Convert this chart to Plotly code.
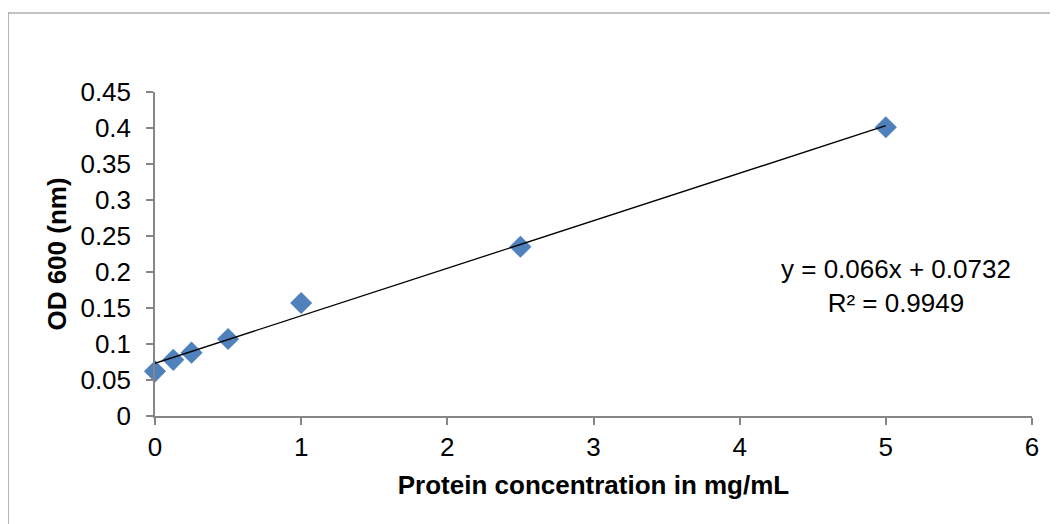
import plotly.graph_objects as go

concentration = [0, 0.125, 0.25, 0.5, 1, 2.5, 5]
od600 = [0.062, 0.078, 0.088, 0.107, 0.157, 0.235, 0.401]
slope = 0.066
intercept = 0.0732
r_squared = 0.9949
x_ticks = [0, 1, 2, 3, 4, 5, 6]
y_ticks = [0, 0.05, 0.1, 0.15, 0.2, 0.25, 0.3, 0.35, 0.4, 0.45]
y_tick_labels = ["0", "0.05", "0.1", "0.15", "0.2", "0.25", "0.3", "0.35", "0.4", "0.45"]

trend_x = [min(concentration), max(concentration)]
trend_y = [slope * v + intercept for v in trend_x]

OFF = 8  # page body offset
W, H = 1058 - OFF, 524 - OFF
ml, mt = 155 - OFF, 92 - OFF
pw, ph = 877, 324
mr = W - ml - pw
mb = H - mt - ph

def px_x(p):
    return (p - OFF - ml) / pw

def px_y(p):
    return (mt + ph - (p - OFF)) / ph

fig = go.Figure()
fig.add_trace(go.Scatter(
    x=concentration, y=od600, mode="markers",
    marker=dict(symbol="diamond", size=17, color="#4F81BD", line=dict(width=0)),
    showlegend=False, cliponaxis=False))
fig.add_trace(go.Scatter(
    x=trend_x, y=trend_y, mode="lines",
    line=dict(color="black", width=1.3), showlegend=False, cliponaxis=False))

font = dict(family="Liberation Sans, Arial, sans-serif", size=26, color="black")

fig.update_layout(
    width=W, height=H,
    margin=dict(l=ml, r=mr, t=mt, b=mb),
    paper_bgcolor="white", plot_bgcolor="white",
    font=font,
    xaxis=dict(range=[0, 6], tickvals=x_ticks, ticktext=[str(v) for v in x_ticks],
               showgrid=False, zeroline=False, showline=True, linecolor="#868686",
               linewidth=1.5, ticks="outside", ticklen=7, tickcolor="#868686",
               tickwidth=1.5, tickfont=font,
               title=dict(text="<b>Protein concentration in mg/mL</b>", font=font, standoff=15)),
    yaxis=dict(range=[0, 0.45], tickvals=y_ticks, ticktext=y_tick_labels,
               showgrid=False, zeroline=False, showline=True, linecolor="#868686",
               linewidth=1.5, ticks="outside", ticklen=7, tickcolor="#868686",
               tickwidth=1.5, tickfont=font, ticklabelstandoff=10,
               title=dict(text="<b>OD 600 (nm)</b>", font=font, standoff=6)),
)

fig.add_annotation(
    x=px_x(896), y=px_y(286), xref="paper", yref="paper",
    text=f"y = {slope}x + {intercept}<br>R² = {r_squared}",
    showarrow=False, align="center", font=font, xanchor="center", yanchor="middle")

fig.add_shape(type="rect", xref="paper", yref="paper",
              x0=px_x(8), x1=px_x(1080), y0=px_y(560), y1=px_y(13),
              line=dict(color="#868686", width=1.2), fillcolor="rgba(0,0,0,0)", layer="below")

fig.write_html("out.html")
